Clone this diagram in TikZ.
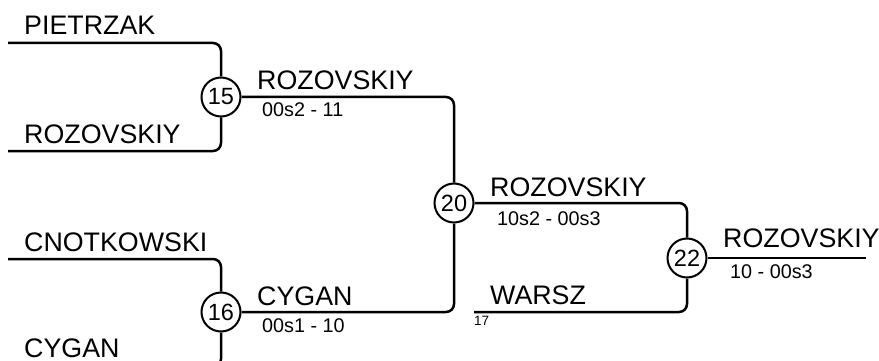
\documentclass[tikz,border=0pt]{standalone}
\usepackage{fontspec}
\setmainfont{Liberation Sans}
\begin{document}
\begin{tikzpicture}[x=1pt,y=-1pt,
  wire/.style={line width=2.5pt,rounded corners=8pt},
  match/.style={circle,draw,line width=2pt,minimum size=39pt,inner sep=0pt,font=\fontsize{23.5}{26}\selectfont},
  player/.style={anchor=base west,inner sep=0pt,font=\fontsize{26.8}{30}\selectfont},
  score/.style={anchor=base west,inner sep=0pt,font=\fontsize{19.8}{22}\selectfont},
  tinylbl/.style={anchor=base west,inner sep=0pt,font=\fontsize{13.5}{15}\selectfont}]
\useasboundingbox (0,0) rectangle (879,361);
\clip (0,0) rectangle (879,361);
% match circles
\node[match] (m15) at (221,97) {15};
\node[match] (m16) at (221,312) {16};
\node[match] (m20) at (454,203) {20};
\node[match] (m22) at (687,258) {22};
% free ends
\coordinate (s1) at (8,43);
\coordinate (s2) at (8,151);
\coordinate (s3) at (8,259);
\coordinate (s4) at (8,367);
\coordinate (s5) at (474,312);
\coordinate (fin) at (866,258);
% wires
\draw[wire] (s1) -| (m15);
\draw[wire] (s2) -| (m15);
\draw[wire] (s3) -| (m16);
\draw[wire] (s4) -| (m16);
\draw[wire] (m15) -| (m20);
\draw[wire] (m16) -| (m20);
\draw[wire] (m20) -| (m22);
\draw[wire] (s5) -| (m22);
\draw[wire] (m22) -- (fin);
% labels
\node[player] (n1) at (24,35) {PIETRZAK};
\node[player] (n2) at (24,143) {ROZOVSKIY};
\node[player] (n3) at (24,251) {CNOTKOWSKI};
\node[player] (n4) at (24,357) {CYGAN};
\node[player] (w15) at (257,90) {ROZOVSKIY};
\node[score] (r15) at (262,117) {00s2 - 11};
\node[player] (w16) at (257,305) {CYGAN};
\node[score] (r16) at (262,332) {00s1 - 10};
\node[player] (w20) at (490,196) {ROZOVSKIY};
\node[score] (r20) at (497,225) {10s2 - 00s3};
\node[player] (w5) at (490,304) {WARSZ};
\node[tinylbl] (t17) at (474,325) {17};
\node[player] (w22) at (723,247) {ROZOVSKIY};
\node[score] (r22) at (730,278) {10 - 00s3};
\end{tikzpicture}
\end{document}
